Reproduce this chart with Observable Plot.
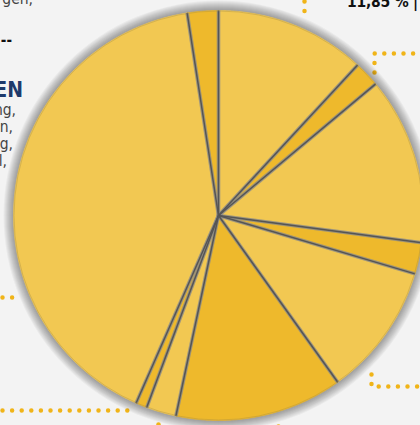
<!DOCTYPE html>
<html><head><meta charset="utf-8">
<script src="https://cdn.jsdelivr.net/npm/d3@7"></script>
<script src="https://cdn.jsdelivr.net/npm/@observablehq/plot@0.6"></script>
<style>
body{margin:0;background:#f3f3f3;}
#wrap{position:relative;width:420px;height:425px;overflow:hidden;background:#f3f3f3;font-family:"DejaVu Sans Condensed","DejaVu Sans",sans-serif;}
#wrap svg{position:absolute;left:0;top:0;}
.t{position:absolute;white-space:nowrap;line-height:1;}
</style></head>
<body><div id="wrap"></div>
<script>
// slice data, clockwise from 12 o'clock
const sliceNames = ["A","B","C","D","E","F","G","H","I","J"];
const sliceValues = [11.85, 2.03, 13.19, 2.47, 10.5, 13.19, 2.36, 0.89, 40.89, 2.44];
const sliceShades = ["light","dark","light","dark","light","dark","light","dark","light","dark"];
const shadeDomain = ["light","dark"];
const shadeColors = ["#f2c852","#eeb92c"];
const topLabel = "11,85 % |";

const W = 420, H = 425, CX = 218, CY = 215, R = 205;
const x0 = -CX / R, x1 = (W - CX) / R, y0 = -(H - CY) / R, y1 = CY / R;
const px = p => (p - CX) / R, py = p => (CY - p) / R;

const total = d3.sum(sliceValues);
const pts = [];
const edges = [];
let acc = 0;
sliceValues.forEach((v, i) => {
  const a0 = acc / total * 2 * Math.PI, a1 = (acc + v) / total * 2 * Math.PI;
  acc += v;
  edges.push({x: Math.sin(a0), y: Math.cos(a0)});
  const id = sliceNames[i], shade = sliceShades[i];
  pts.push({id, shade, x: 0, y: 0});
  const n = Math.max(2, Math.ceil((a1 - a0) / 0.005));
  for (let k = 0; k <= n; k++) {
    const a = a0 + (a1 - a0) * k / n;
    pts.push({id, shade, x: Math.sin(a), y: Math.cos(a)});
  }
  pts.push({id, shade, x: 0, y: 0});
});

// soft shadow rings (stacked translucent discs)
const shadowRings = d3.range(1, 11).map(k => ({x: 0, y: 0, r: R + k}));

// decorative dotted leader lines (pixel coords converted to data space)
const dotted = [
  [[304,1],[304,12]],
  [[374,72],[374,53],[422,53]],
  [[2,297],[12,297]],
  [[2,410],[136,410]],
  [[371,374],[371,386],[422,386]]
];
const leaderPts = [];
dotted.forEach((seg, i) => seg.forEach(([a,b]) => leaderPts.push({g:i, x:px(a), y:py(b)})));
const singleDots = [{x:px(158),y:py(424)},{x:px(278),y:py(426)}];

const chart = Plot.plot({
  width: W, height: H,
  marginTop: 0, marginRight: 0, marginBottom: 0, marginLeft: 0,
  x: {domain: [x0, x1], axis: null},
  y: {domain: [y0, y1], axis: null},
  r: {type: "identity"},
  color: {domain: shadeDomain, range: shadeColors},
  style: {background: "transparent", overflow: "visible"},
  marks: [
    Plot.line(leaderPts, {x: "x", y: "y", z: "g", stroke: "#f0b418", strokeWidth: 4.5, strokeLinecap: "round", strokeDasharray: "0,9.6"}),
    Plot.dot(singleDots, {x: "x", y: "y", r: 2.3, fill: "#f0b418"}),
    Plot.dot(shadowRings, {x: "x", y: "y", r: "r", fill: "#000", fillOpacity: 0.04, sort: null}),
    Plot.line(pts, {x: "x", y: "y", z: "id", fill: "shade", stroke: "shade", strokeWidth: 0.6}),
    Plot.link(edges, {x1: () => 0, y1: () => 0, x2: "x", y2: "y", stroke: "#8a8a8a", strokeWidth: 3.6, strokeOpacity: 0.8, strokeLinecap: "butt"}),
    Plot.link(edges, {x1: () => 0, y1: () => 0, x2: "x", y2: "y", stroke: "#555", strokeWidth: 1.5, strokeLinecap: "butt"}),
    Plot.dot([{x:0,y:0}], {x: "x", y: "y", r: R - 0.5, fill: "none", stroke: "#a08a45", strokeWidth: 1, strokeOpacity: 0.35})
  ]
});
const wrap = document.getElementById("wrap");
wrap.appendChild(chart);

const texts = [
  {s: "gen,", right: 387, top: -8, size: 15.5, color: "#444", weight: "normal"},
  {s: "--", right: 408, top: 33, size: 15, color: "#111", weight: "bold"},
  {s: "EN", right: 397, top: 80, size: 21, color: "#1e3a6b", weight: "bold"},
  {s: "ng,", right: 404, top: 103, size: 15.5, color: "#444", weight: "normal"},
  {s: "n,", right: 407, top: 120, size: 15.5, color: "#444", weight: "normal"},
  {s: "g,", right: 407, top: 137, size: 15.5, color: "#444", weight: "normal"},
  {s: "l,", right: 413, top: 154, size: 15.5, color: "#444", weight: "normal"},
  {s: topLabel, right: 2, top: -5, size: 15.5, color: "#111", weight: "bold", ls: "-0.2px"}
];
texts.forEach(t => {
  const d = document.createElement("div");
  d.className = "t";
  d.textContent = t.s;
  if (t.right !== undefined) d.style.right = t.right + "px"; else d.style.left = t.left + "px";
  d.style.top = t.top + "px";
  d.style.fontSize = t.size + "px";
  d.style.color = t.color;
  d.style.fontWeight = t.weight;
  if (t.ls) d.style.letterSpacing = t.ls;
  wrap.appendChild(d);
});
</script></body></html>
